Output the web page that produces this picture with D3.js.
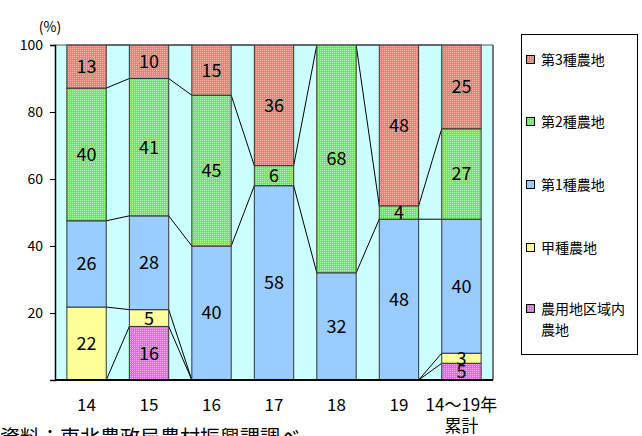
<!DOCTYPE html>
<html>
<head>
<meta charset="utf-8">
<script src="https://cdn.jsdelivr.net/npm/d3@7"></script>
<style>
  html, body { margin: 0; padding: 0; background: #fff; }
  svg { display: block; font-family: "Noto Sans CJK JP", "Noto Sans", sans-serif; }
</style>
</head>
<body>
<svg id="chart" width="642" height="436"></svg>
<script>
// Categories (fiscal years) and per-type shares (%)
const categories = ["14", "15", "16", "17", "18", "19", "14～19年\n累計"];
const seriesNames = ["農用地区域内農地", "甲種農地", "第1種農地", "第2種農地", "第3種農地"];
const nouyouchi = [0, 16, 0, 0, 0, 0, 5];
const koushu    = [22, 5, 0, 0, 0, 0, 3];
const dai1      = [26, 28, 40, 58, 32, 48, 40];
const dai2      = [40, 41, 45, 6, 68, 4, 27];
const dai3      = [13, 10, 15, 36, 0, 48, 25];
const yTicks = [20, 40, 60, 80, 100];
const legendOrder = ["第3種農地", "第2種農地", "第1種農地", "甲種農地", "農用地区域内農地"];
const sourceNote = "資料：東北農政局農村振興課調べ";

const valuesBySeries = [nouyouchi, koushu, dai1, dai2, dai3];
const rows = categories.map((c, i) => {
  const r = { cat: c };
  seriesNames.forEach((s, k) => r[s] = valuesBySeries[k][i]);
  return r;
});

const svg = d3.select("#chart");
const defs = svg.append("defs");

// Fine dotted fills: an 8px tile holding a 2px dot grid
function dotted(id, base, light) {
  const p = defs.append("pattern").attr("id", id).attr("patternUnits", "userSpaceOnUse")
    .attr("width", 8).attr("height", 8);
  p.append("rect").attr("width", 8).attr("height", 8).attr("fill", base);
  const dots = [];
  for (let i = 0; i < 4; i++) for (let j = 0; j < 4; j++) dots.push([i * 2, j * 2]);
  p.selectAll(null).data(dots).join("rect")
    .attr("x", d => d[0]).attr("y", d => d[1]).attr("width", 1).attr("height", 1)
    .attr("fill", light);
}
dotted("pRed", "#ff7676", "#ffb0b0");
dotted("pGreen", "#58f258", "#a8ffa8");
dotted("pPink", "#ff58ff", "#ffa8ff");

const fills = {
  "農用地区域内農地": "url(#pPink)",
  "甲種農地": "#ffff99",
  "第1種農地": "#99ccff",
  "第2種農地": "url(#pGreen)",
  "第3種農地": "url(#pRed)"
};

const plot = { left: 55, right: 493, top: 45, bottom: 380 };

const x = d3.scaleBand().domain(categories).range([plot.left, plot.right])
  .paddingInner(0.37).paddingOuter(0.19);
const y = d3.scaleLinear().domain([0, 1]).range([plot.bottom, plot.top]);

const stacked = d3.stack().keys(seriesNames).offset(d3.stackOffsetExpand)(rows);

// Plot background
svg.append("rect").attr("x", plot.left).attr("y", plot.top)
  .attr("width", plot.right - plot.left).attr("height", plot.bottom - plot.top)
  .attr("fill", "#ccffff");

// Series lines connecting segment tops of neighbouring bars
const lineG = svg.append("g").attr("stroke", "#000").attr("stroke-width", 1).attr("fill", "none");
stacked.forEach(layer => {
  for (let i = 0; i < categories.length - 1; i++) {
    lineG.append("line")
      .attr("x1", x(categories[i]) + x.bandwidth()).attr("y1", y(layer[i][1]))
      .attr("x2", x(categories[i + 1])).attr("y2", y(layer[i + 1][1]));
  }
});

// Bars
const barG = svg.append("g");
stacked.forEach(layer => {
  barG.selectAll(null).data(layer.filter(d => d[1] - d[0] > 0)).join("rect")
    .attr("x", d => x(d.data.cat))
    .attr("y", d => y(d[1]))
    .attr("width", x.bandwidth())
    .attr("height", d => y(d[0]) - y(d[1]))
    .attr("fill", fills[layer.key])
    .attr("stroke", "#333")
    .attr("stroke-width", 1);
});

// Value labels
const labelG = svg.append("g").attr("font-size", 18).attr("fill", "#000").attr("text-anchor", "middle");
stacked.forEach(layer => {
  labelG.selectAll(null).data(layer.filter(d => d.data[layer.key] > 0)).join("text")
    .attr("x", d => x(d.data.cat) + x.bandwidth() / 2)
    .attr("y", d => (y(d[0]) + y(d[1])) / 2)
    .attr("dy", "0.36em")
    .text(d => d.data[layer.key]);
});

// Plot frame
svg.append("line").attr("x1", plot.left).attr("x2", plot.right).attr("y1", plot.top).attr("y2", plot.top)
  .attr("stroke", "#555").attr("stroke-width", 1);
svg.append("line").attr("x1", plot.right).attr("x2", plot.right).attr("y1", plot.top).attr("y2", plot.bottom)
  .attr("stroke", "#777").attr("stroke-width", 2);

// Y axis
const yAxis = d3.axisLeft(y).tickValues(yTicks.map(t => t / 100)).tickFormat(d => Math.round(d * 100))
  .tickSize(5).tickPadding(7);
const yg = svg.append("g").attr("transform", `translate(${plot.left},0)`).call(yAxis);
yg.select(".domain").attr("stroke", "#000").attr("stroke-width", 1.5);
yg.selectAll(".tick line").attr("stroke", "#000");
yg.selectAll("text").attr("font-size", 14).attr("fill", "#000")
  .attr("font-family", "'Noto Sans CJK JP', sans-serif");

// Bottom axis line
svg.append("line").attr("x1", plot.left).attr("x2", plot.right).attr("y1", plot.bottom).attr("y2", plot.bottom)
  .attr("stroke", "#000").attr("stroke-width", 2);

// Category labels
const xg = svg.append("g").attr("font-size", 17).attr("text-anchor", "middle").attr("fill", "#000");
categories.forEach(c => {
  const lines = c.split("\n");
  const t = xg.append("text").attr("x", x(c) + x.bandwidth() / 2).attr("y", 411);
  lines.forEach((ln, k) => t.append("tspan").attr("x", x(c) + x.bandwidth() / 2)
    .attr("dy", k === 0 ? 0 : 21).text(ln));
});

// Unit label
svg.append("text").attr("x", 50).attr("y", 32).attr("text-anchor", "middle")
  .attr("font-size", 14).text("(%)");

// Legend
const lg = svg.append("g");
lg.append("rect").attr("x", 521.5).attr("y", 34.5).attr("width", 116).attr("height", 320)
  .attr("fill", "#fff").attr("stroke", "#000").attr("stroke-width", 1);
const legendY = [60, 122, 185, 248, 309];
legendOrder.forEach((name, i) => {
  const gy = legendY[i];
  lg.append("rect").attr("x", 526.5).attr("y", gy - 4.5).attr("width", 8).attr("height", 8)
    .attr("fill", fills[name]).attr("stroke", "#000").attr("stroke-width", 1);
  const label = name === "農用地区域内農地" ? ["農用地区域内", "農地"] : [name];
  const t = lg.append("text").attr("x", 541).attr("y", gy + 5).attr("font-size", 14).attr("fill", "#000");
  label.forEach((ln, k) => t.append("tspan").attr("x", 541).attr("dy", k === 0 ? 0 : 21).text(ln));
});

// Source note
svg.append("text").attr("x", 0).attr("y", 445).attr("font-size", 20).attr("fill", "#000").text(sourceNote);
</script>
</body>
</html>
